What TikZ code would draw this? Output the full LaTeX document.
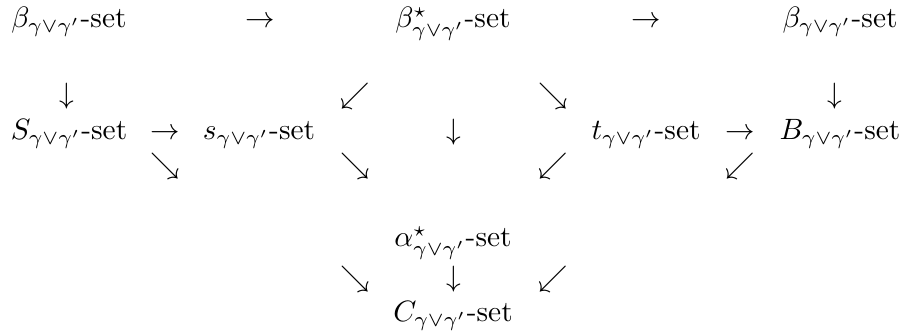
\documentclass[tikz,border=0pt]{standalone}
\usetikzlibrary{calc}
\newcommand{\gset}[1]{$#1_{\gamma\vee\gamma'}$-set}% set label with the join subscript
\begin{document}
\begin{tikzpicture}[x=0.34pt,y=-0.34pt,
    setnode/.style={inner sep=0pt, anchor=base},
    arr/.style={inner sep=0pt, anchor=base}]
  \useasboundingbox (0,0) rectangle (899,334);
  % top row
  \node[setnode] (bl) at (69,28) {\gset{\beta}};
  \node[arr] (a1) at (260,28) {$\to$};
  \node[setnode] (bs) at (453,28) {\gset{\beta^\star}};
  \node[arr] (a2) at (646,28) {$\to$};
  \node[setnode] (br) at (840,28) {\gset{\beta}};
  % second row of arrows
  \node[arr] (d1) at (67,104) {$\downarrow$};
  \node[arr] (d2) at (355,104) {$\swarrow$};
  \node[arr] (d3) at (553,104) {$\searrow$};
  \node[arr] (d4) at (835,104) {$\downarrow$};
  % middle row
  \node[setnode] (S) at (69,140) {\gset{S}};
  \node[arr] (a3) at (165,140) {$\to$};
  \node[setnode] (s) at (259,140) {\gset{s}};
  \node[arr] (d5) at (454,140) {$\downarrow$};
  \node[setnode] (t) at (646,140) {\gset{t}};
  \node[arr] (a4) at (740,140) {$\to$};
  \node[setnode] (B) at (840,140) {\gset{B}};
  % fourth row of arrows
  \node[arr] (e1) at (165,174) {$\searrow$};
  \node[arr] (e2) at (355,174) {$\searrow$};
  \node[arr] (e3) at (553,174) {$\swarrow$};
  \node[arr] (e4) at (740,174) {$\swarrow$};
  % bottom part
  \node[setnode] (al) at (453,247) {\gset{\alpha^\star}};
  \node[arr] (f1) at (355,287) {$\searrow$};
  \node[arr] (f2) at (454,287) {$\downarrow$};
  \node[arr] (f3) at (553,287) {$\swarrow$};
  \node[setnode] (C) at (453,322) {\gset{C}};
\end{tikzpicture}
\end{document}
